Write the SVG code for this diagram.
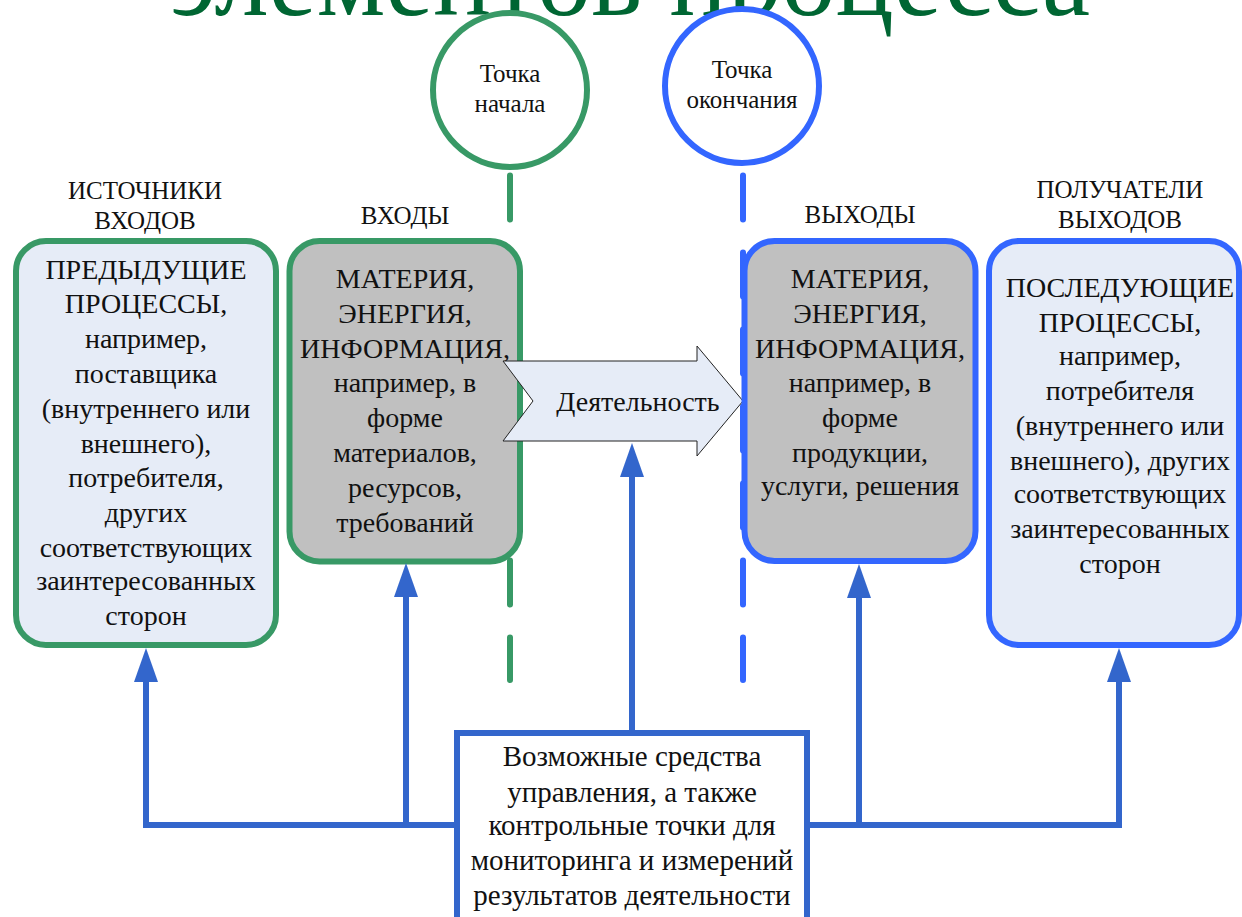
<svg xmlns="http://www.w3.org/2000/svg" width="1242" height="917" viewBox="0 0 1242 917">
<style>
text{font-family:"Liberation Serif","Times New Roman",serif;fill:#111;text-anchor:middle}
.t28{font-size:28px}
.t29{font-size:29px}
.t25{font-size:25px}
.green{stroke:#389966;stroke-width:6;fill:none}
.blue{stroke:#3366FF;stroke-width:6;fill:none}
.dash{stroke-width:6;stroke-dasharray:44 33;stroke-linecap:round;fill:none}
.conn{stroke:#3366CC;stroke-width:6;fill:none}
.head{fill:#3366CC}
</style>
<rect width="1242" height="917" fill="#fff"/>
<text x="170" y="15" style="font-size:110px;fill:#006633;text-anchor:start" textLength="920" lengthAdjust="spacingAndGlyphs">элементов процесса</text>

<g id="dashed-lines">
<line class="dash" x1="510" y1="175.5" x2="510" y2="680" stroke="#389966"/>
<line class="dash" x1="743" y1="175.5" x2="743" y2="680" stroke="#3366FF"/>
</g>

<g id="start-point">
<circle class="green" cx="510" cy="90" r="77" style="fill:#fff"/>
<text class="t25" x="510" y="82">Точка</text>
<text class="t25" x="510" y="112">начала</text>
</g>
<g id="end-point">
<circle class="blue" cx="742" cy="86" r="77" style="fill:#fff"/>
<text class="t25" x="742" y="78">Точка</text>
<text class="t25" x="742" y="108">окончания</text>
</g>

<g id="labels">
<text class="t25" x="145" y="199">ИСТОЧНИКИ</text>
<text class="t25" x="145" y="229">ВХОДОВ</text>
<text class="t25" x="405" y="224">ВХОДЫ</text>
<text class="t25" x="860" y="223">ВЫХОДЫ</text>
<text class="t25" x="1120" y="198">ПОЛУЧАТЕЛИ</text>
<text class="t25" x="1120" y="228">ВЫХОДОВ</text>
</g>

<g id="sources">
<rect class="green" x="16" y="241" width="260" height="404" rx="30" style="fill:#E6ECF7"/>
<text class="t28" x="146" y="279">ПРЕДЫДУЩИЕ</text>
<text class="t28" x="146" y="313">ПРОЦЕССЫ,</text>
<text class="t28" x="146" y="348">например,</text>
<text class="t28" x="146" y="383">поставщика</text>
<text class="t28" x="146" y="418">(внутреннего или</text>
<text class="t28" x="146" y="453">внешнего),</text>
<text class="t28" x="146" y="487">потребителя,</text>
<text class="t28" x="146" y="522">других</text>
<text class="t28" x="146" y="557">соответствующих</text>
<text class="t28" x="146" y="590">заинтересованных</text>
<text class="t28" x="146" y="625">сторон</text>
</g>

<g id="inputs">
<rect class="green" x="289.5" y="241" width="230.5" height="320.5" rx="30" style="fill:#C0C0C0"/>
<text class="t28" x="405" y="288">МАТЕРИЯ,</text>
<text class="t28" x="405" y="323">ЭНЕРГИЯ,</text>
<text class="t28" x="405" y="358">ИНФОРМАЦИЯ,</text>
<text class="t28" x="405" y="392">например, в</text>
<text class="t28" x="405" y="427">форме</text>
<text class="t28" x="405" y="462">материалов,</text>
<text class="t28" x="405" y="497">ресурсов,</text>
<text class="t28" x="405" y="532">требований</text>
</g>

<g id="activity">
<polygon points="503,361 697,361 697,346 743,401 697,456 697,441 503,441 533,401" fill="#E6ECF7" stroke="#222" stroke-width="1"/>
<text class="t28" x="638" y="411">Деятельность</text>
</g>

<g id="outputs">
<rect class="blue" x="744.5" y="241" width="231" height="320" rx="30" style="fill:#C0C0C0"/>
<text class="t28" x="860" y="288">МАТЕРИЯ,</text>
<text class="t28" x="860" y="323">ЭНЕРГИЯ,</text>
<text class="t28" x="860" y="358">ИНФОРМАЦИЯ,</text>
<text class="t28" x="860" y="392">например, в</text>
<text class="t28" x="860" y="427">форме</text>
<text class="t28" x="860" y="462">продукции,</text>
<text class="t28" x="860" y="495">услуги, решения</text>
</g>

<g id="recipients">
<rect class="blue" x="989" y="241" width="250" height="404" rx="30" style="fill:#E6ECF7"/>
<text class="t28" x="1120" y="297">ПОСЛЕДУЮЩИЕ</text>
<text class="t28" x="1120" y="332">ПРОЦЕССЫ,</text>
<text class="t28" x="1120" y="365">например,</text>
<text class="t28" x="1120" y="400">потребителя</text>
<text class="t28" x="1120" y="435">(внутреннего или</text>
<text class="t28" x="1120" y="470">внешнего), других</text>
<text class="t28" x="1120" y="503">соответствующих</text>
<text class="t28" x="1120" y="538">заинтересованных</text>
<text class="t28" x="1120" y="573">сторон</text>
</g>

<g id="connectors">
<path class="conn" d="M146,681 V825 H1119 V681"/>
<line class="conn" x1="406" y1="825" x2="406" y2="596"/>
<line class="conn" x1="859" y1="825" x2="859" y2="596"/>
<line class="conn" x1="632" y1="733" x2="632" y2="476"/>
<polygon class="head" points="146,648 134,682 158,682"/>
<polygon class="head" points="406,563 394,597 418,597"/>
<polygon class="head" points="632,443 620,477 644,477"/>
<polygon class="head" points="859,564 847,598 871,598"/>
<polygon class="head" points="1119,648 1107,682 1131,682"/>
</g>

<g id="controls">
<rect x="457" y="733" width="350" height="200" fill="#fff" stroke="#3366CC" stroke-width="6"/>
<text class="t29" x="632" y="766">Возможные средства</text>
<text class="t29" x="632" y="802">управления, а также</text>
<text class="t29" x="632" y="835">контрольные точки для</text>
<text class="t29" x="632" y="870">мониторинга и измерений</text>
<text class="t29" x="632" y="905">результатов деятельности</text>
</g>
</svg>
